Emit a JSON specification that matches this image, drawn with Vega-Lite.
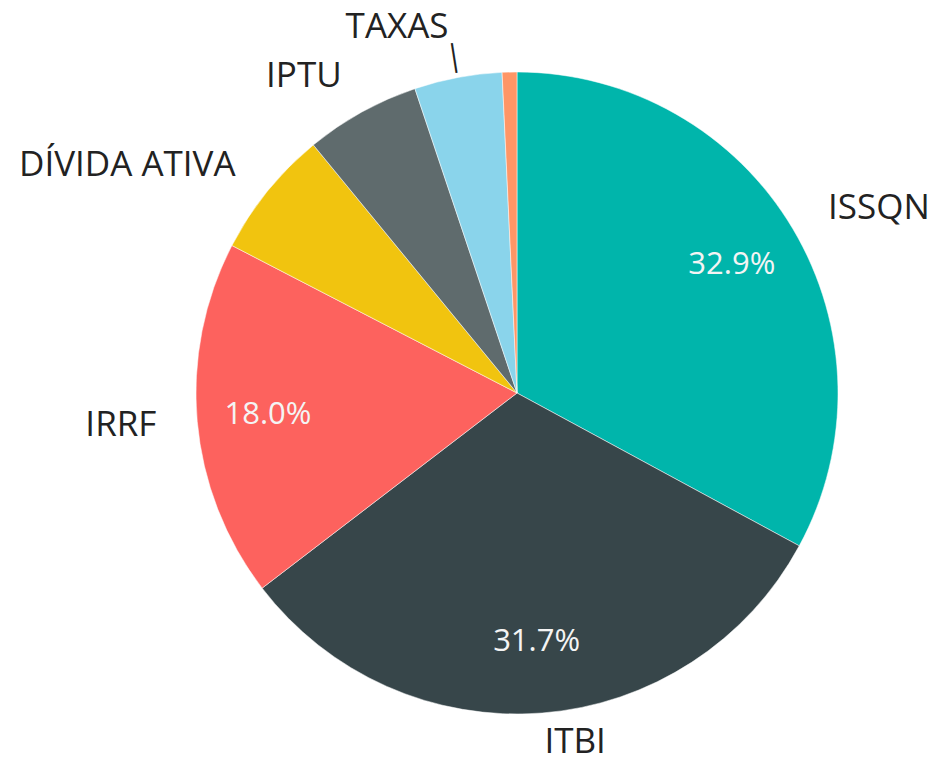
{
  "$schema": "https://vega.github.io/schema/vega-lite/v6.json",
  "width": 850,
  "height": 746,
  "padding": {"left": 92, "top": 20, "right": 0, "bottom": 0},
  "autosize": "none",
  "background": "white",
  "config": {"view": {"stroke": null}, "font": "Open Sans"},
  "data": {
    "values": [
      {"cat": "ISSQN", "ord": 1, "v": 0.329},
      {"cat": "ITBI", "ord": 2, "v": 0.317},
      {"cat": "IRRF", "ord": 3, "v": 0.180},
      {"cat": "DÍVIDA ATIVA", "ord": 4, "v": 0.0646},
      {"cat": "IPTU", "ord": 5, "v": 0.0579},
      {"cat": "TAXAS", "ord": 6, "v": 0.0441},
      {"cat": "OUTROS", "ord": 7, "v": 0.0074}
    ]
  },
  "encoding": {
    "theta": {"field": "v", "type": "quantitative", "stack": true},
    "order": {"field": "ord", "type": "quantitative"}
  },
  "layer": [
    {
      "mark": {"type": "arc", "outerRadius": 321, "stroke": "white", "strokeWidth": 0.5},
      "encoding": {
        "color": {
          "field": "cat",
          "type": "nominal",
          "legend": null,
          "sort": ["ISSQN", "ITBI", "IRRF", "DÍVIDA ATIVA", "IPTU", "TAXAS", "OUTROS"],
          "scale": {
            "domain": ["ISSQN", "ITBI", "IRRF", "DÍVIDA ATIVA", "IPTU", "TAXAS", "OUTROS"],
            "range": ["#00b5ab", "#37464a", "#fd625e", "#f1c40f", "#5f6b6d", "#8ad4eb", "#fe9666"]
          }
        }
      }
    },
    {
      "mark": {"type": "text", "radius": 250, "fontSize": 31, "color": "#f4f4f4", "align": "center", "baseline": "middle"},
      "encoding": {
        "text": {"condition": {"test": "datum.v >= 0.1", "field": "v", "format": ".1%"}, "value": ""}
      }
    },
    {
      "mark": {"type": "text", "radius": 362, "fontSize": 35, "color": "#222222", "align": "left", "baseline": "middle"},
      "encoding": {
        "text": {"condition": {"test": "datum.cat === 'ISSQN'", "field": "cat"}, "value": ""}
      }
    },
    {
      "mark": {"type": "text", "radius": 350, "fontSize": 35, "color": "#222222", "align": "left", "baseline": "middle"},
      "encoding": {
        "text": {"condition": {"test": "datum.cat === 'ITBI'", "field": "cat"}, "value": ""}
      }
    },
    {
      "mark": {"type": "text", "radius": 362, "fontSize": 35, "color": "#222222", "align": "right", "baseline": "middle"},
      "encoding": {
        "text": {"condition": {"test": "datum.cat === 'IRRF' || datum.cat === 'DÍVIDA ATIVA' || datum.cat === 'IPTU'", "field": "cat"}, "value": ""}
      }
    },
    {
      "mark": {"type": "text", "radius": 372, "fontSize": 35, "color": "#222222", "align": "right", "baseline": "middle"},
      "encoding": {
        "text": {"condition": {"test": "datum.cat === 'TAXAS'", "field": "cat"}, "value": ""}
      }
    },
    {
      "mark": {"type": "text", "radius": 342, "fontSize": 30, "color": "#222222", "align": "center", "baseline": "middle", "angle": -9},
      "encoding": {
        "text": {"condition": {"test": "datum.cat === 'TAXAS'", "value": "|"}, "value": ""}
      }
    }
  ]
}
